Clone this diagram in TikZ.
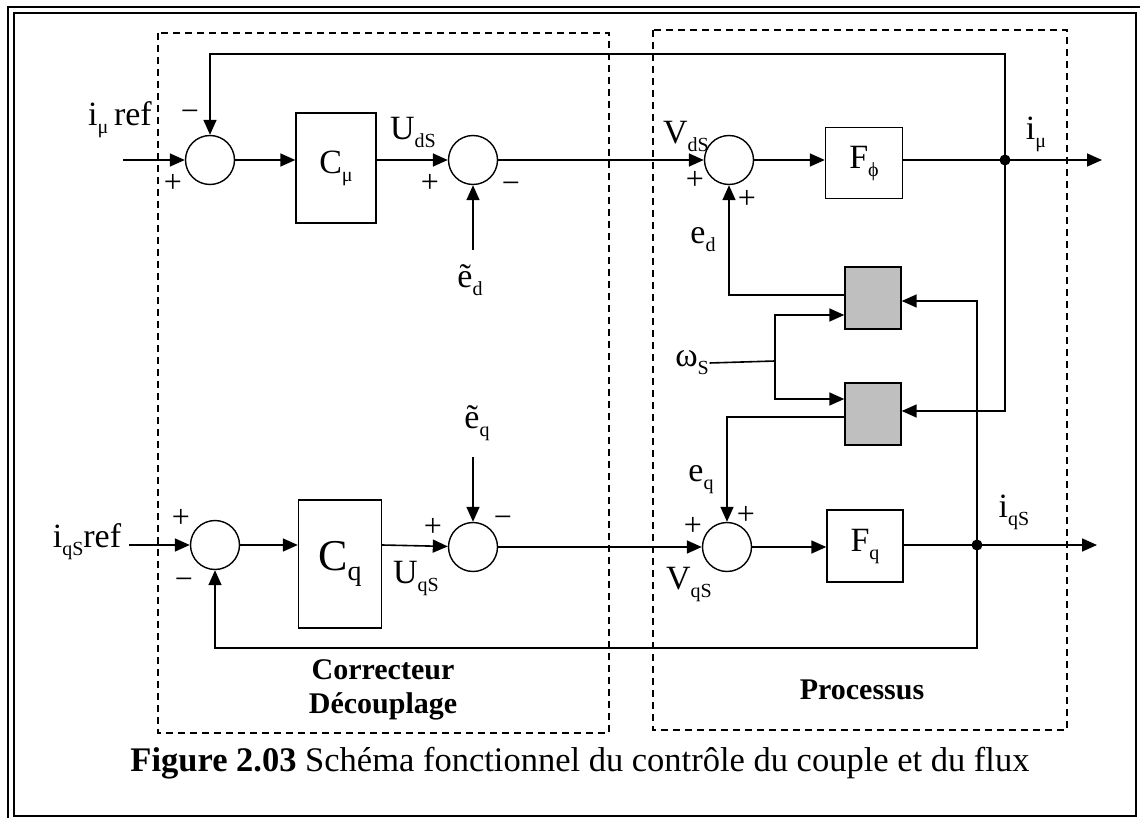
\documentclass[tikz,border=0pt]{standalone}
\usepackage{fontspec}
\setmainfont{Liberation Serif}
\usetikzlibrary{arrows.meta,calc}
\newcommand{\sbs}[1]{\raisebox{-8pt}{\fontsize{20}{20}\selectfont #1}}
\begin{document}
\begin{tikzpicture}[x=1pt,y=-1pt,line width=1.6pt,>={Triangle[length=15pt,width=13pt]},
 sum/.style={draw,circle,minimum size=49pt,inner sep=0pt,line width=1.4pt,fill=white},
 blk/.style={draw,inner sep=0pt,line width=1.4pt,fill=white,font=\fontsize{34}{36}\selectfont},
 gry/.style={blk,fill=gray!50,minimum width=56pt,minimum height=62pt},
 lab/.style={inner sep=0pt,font=\fontsize{34}{36}\selectfont},
 sgn/.style={inner sep=0pt,font=\fontsize{32}{32}\selectfont},
 grp/.style={line width=1.5pt,dash pattern=on 7pt off 5pt},
 dot/.style={fill,circle,inner sep=0pt,minimum size=11pt}]
\useasboundingbox (0,0) rectangle (1140,818);
% frame
\draw[line width=2.5pt] (8,818) -- (8,7) -- (1140,7);
\draw[line width=2.5pt] (14,13) rectangle (1136,816);
% groups
\draw[grp] (158,33) rectangle (609,733);
\draw[grp] (653,30) rectangle (1067,730);
% blocks
\node[sum] (s1) at (210,160) {};
\node[blk,minimum width=80pt,minimum height=110pt] (cmu) at (336,168) {C\sbs{μ}};
\node[sum] (s2) at (473,160) {};
\node[sum] (s3) at (729,160) {};
\node[blk,minimum width=77pt,minimum height=71pt] (fphi) at (864,163) {F\sbs{ϕ}};
\node[gry] (g1) at (873,298) {};
\node[gry] (g2) at (873,414) {};
\node[sum] (s4) at (215,545) {};
\node[blk,minimum width=83pt,minimum height=128pt,font=\fontsize{44}{44}\selectfont] (cq) at (340,564) {C\raisebox{-10pt}{\fontsize{28}{28}\selectfont q}};
\node[sum] (s5) at (473,547) {};
\node[sum] (s6) at (727,547) {};
\node[blk,minimum width=76pt,minimum height=72pt] (fq) at (865,546) {F\sbs{q}};
% points
\coordinate (in1) at (123,160);
\coordinate (in2) at (129,545);
\coordinate (ed0) at (473,250);
\coordinate (eq0) at (473,457);
\coordinate (j1) at (1005,160);
\coordinate (j2) at (977,545);
\coordinate (out1) at (1102,160);
\coordinate (out2) at (1097,545);
\coordinate (fb1) at (1005,54);
\coordinate (fb2) at (977,648);
\coordinate (br) at (775,361);
% labels
\node[lab] (limu) at (120,120) {i\sbs{μ}\,ref};
\node[lab] (liqs) at (87,542) {i\sbs{qS}ref};
\node[lab] (luds) at (413,132) {U\sbs{dS}};
\node[lab] (luqs) at (416,578) {U\sbs{qS}};
\node[lab] (lted) at (470,280) {\~{e}\sbs{d}};
\node[lab] (lteq) at (477,423) {\~{e}\sbs{q}};
\node[lab] (lvds) at (686,136) {V\sbs{dS}};
\node[lab] (lvqs) at (689,584) {V\sbs{qS}};
\node[lab] (led) at (703,240) {e\sbs{d}};
\node[lab] (leq) at (701,480) {e\sbs{q}};
\node[lab] (lom) at (692,363) {ω\sbs{S}};
\node[lab] (limo) at (1036,134) {i\sbs{μ}};
\node[lab] (liqo) at (1014,512) {i\sbs{qS}};
\node[sgn] at (190,116) {−};
\node[sgn] at (173,183) {+};
\node[sgn] at (430,183) {+};
\node[sgn] at (511,188) {−};
\node[sgn] at (695,180) {+};
\node[sgn] at (747,199) {+};
\node[sgn] at (181,518) {+};
\node[sgn] at (184,584) {−};
\node[sgn] at (433,527) {+};
\node[sgn] at (503,522) {−};
\node[sgn] at (693,526) {+};
\node[sgn] at (746,515) {+};
\node[lab,font=\bfseries\fontsize{30}{34}\selectfont,align=center] (lcor) at (383,690) {Correcteur\\Découplage};
\node[lab,font=\bfseries\fontsize{30}{34}\selectfont] (lpro) at (862,690) {Processus};
\node[lab,font=\fontsize{34.5}{36}\selectfont] (cap) at (580,763) {\textbf{Figure 2.03} Schéma fonctionnel du contrôle du couple et du flux};
% top loop
\draw[->] (in1) -- (s1);
\draw[->] (s1) -- (s1 -| cmu.west);
\draw[->] (s2 -| cmu.east) -- (s2);
\draw[->] (ed0) -- (s2.south);
\draw[->] (s2) -- (s3);
\draw[->] (s3) -- (s3 -| fphi.west);
\draw[->] (fphi.east |- j1) -- (out1);
\draw[->] (j1) -- (fb1) -| (s1.north);
\node[dot] at (j1) {};
% coupling
\draw[->] (j1) |- ([yshift=3pt]g2.east);
\draw[->] (j2) |- ([yshift=-3pt]g1.east);
\draw[->] ([yshift=3pt]g1.west) -| (s3.south);
\draw[->] ([yshift=-3pt]g2.west) -| (s6.north);
\draw (lom.east) -- (br);
\draw[->] (br) |- ([yshift=-17pt]g1.west);
\draw[->] (br) |- ([yshift=15pt]g2.west);
% bottom loop
\draw[->] (in2) -- (s4);
\draw[->] (s4) -- (s4 -| cq.west);
\draw[->] (cq.east |- s4) -- (s5);
\draw[->] (eq0) -- (s5.north);
\draw[->] (s5) -- (s6);
\draw[->] (s6) -- (s6 -| fq.west);
\draw[->] (fq.east |- j2) -- (out2);
\draw[->] (j2) -- (fb2) -| (s4.south);
\node[dot] at (j2) {};
\end{tikzpicture}
\end{document}
